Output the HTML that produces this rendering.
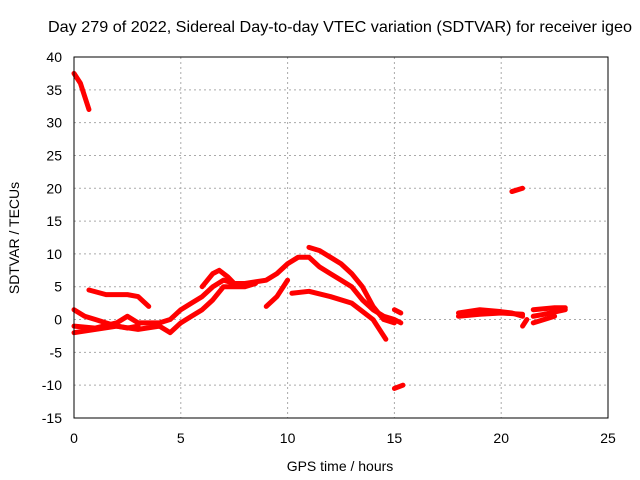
<!DOCTYPE html>
<html><head><meta charset="utf-8"><style>
body{margin:0;background:#fff}
svg{display:block;font-family:"Liberation Sans",sans-serif;font-size:14px}
</style></head><body>
<svg id="chart" width="640" height="480">
<rect x="0" y="0" width="640" height="480" fill="#fff"/>
<text x="340" y="32" text-anchor="middle" font-size="16" textLength="584" lengthAdjust="spacingAndGlyphs">Day 279 of 2022, Sidereal Day-to-day VTEC variation (SDTVAR) for receiver igeo</text>
<text x="340" y="471" text-anchor="middle">GPS time / hours</text>
<text transform="translate(19,238) rotate(-90)" text-anchor="middle">SDTVAR / TECUs</text>
<g id="grid"></g><g id="series"></g>
<rect x="74" y="57" width="534" height="361" fill="none" stroke="#000"/>
</svg>
<script>
const xTicks=[0,5,10,15,20,25];
const yTicks=[-15,-10,-5,0,5,10,15,20,25,30,35,40];
const track1=[[0,37.5],[0.3,36],[0.5,34],[0.7,32]];
const track2=[[0.7,4.5],[1.5,3.8],[2.5,3.8],[3,3.5],[3.5,2]];
const track3=[[0,1.5],[0.5,0.5],[1,0],[1.5,-0.5],[2,-1],[2.5,-1.3],[3,-1]];
const track4=[[0,-1],[1,-1.3],[2,-0.5],[2.5,0.5],[3,-0.5],[4,-0.5],[4.5,0],[5,1.5],[5.5,2.5],[6,3.5],[6.5,5],[7,6],[7.5,5.5],[8,5.5],[9,6],[9.5,7],[10,8.5],[10.5,9.5],[11,9.5],[11.5,8],[12,7],[12.5,6],[13,5],[13.5,3],[14,1.5],[14.5,0.5],[15,0],[15.3,-0.5]];
const track5=[[0,-2],[1,-1.5],[2,-1],[3,-1.5],[4,-1],[4.5,-2],[5,-0.5],[5.5,0.5],[6,1.5],[6.5,3],[7,5],[7.5,5],[8,5],[8.5,5.5]];
const track6=[[6,5],[6.5,7],[6.8,7.5],[7.2,6.5],[7.5,5.5]];
const track7=[[9,2],[9.5,3.5],[10,6]];
const track8=[[10.2,4],[11,4.3],[12,3.5],[13,2.5],[14,0],[14.6,-3]];
const track9=[[11,11],[11.5,10.5],[12,9.5],[12.5,8.5],[13,7],[13.5,5],[14,2],[14.5,0],[15,-0.5]];
const track10=[[15,1.5],[15.3,1]];
const track11=[[15,-10.5],[15.4,-10]];
const track12=[[18,1],[19,1.5],[20,1.2],[20.5,1],[21,0.5]];
const track13=[[18,0.5],[19,0.8],[20,1],[21,0.8]];
const track14=[[20.5,19.5],[21,20]];
const track15=[[21,-1],[21.2,0]];
const track16=[[21.5,0.5],[22,0.8],[23,1.5]];
const track17=[[21.5,1.5],[22.5,1.8],[23,1.8]];
const track18=[[21.5,-0.5],[22.5,0.5]];
const tracks=[track1,track2,track3,track4,track5,track6,track7,track8,track9,track10,track11,track12,track13,track14,track15,track16,track17,track18];
const X=v=>74+v*534/25, Y=v=>418-(v+15)*361/55;
const NS="http://www.w3.org/2000/svg";
const grid=document.getElementById('grid'), ser=document.getElementById('series');
function mk(tag,attrs,parent){const e=document.createElementNS(NS,tag);for(const k in attrs)e.setAttribute(k,attrs[k]);parent.appendChild(e);return e;}
xTicks.forEach(t=>{
 const g=mk('line',{x1:X(t),x2:X(t),y1:57,y2:418,stroke:'#aaa','stroke-dasharray':'2,3'},grid);
 
 
 const tx=mk('text',{x:X(t),y:443,'text-anchor':'middle'},grid);tx.textContent=t;
 
 
});
yTicks.forEach(t=>{
 const g=mk('line',{x1:74,x2:608,y1:Y(t),y2:Y(t),stroke:'#aaa','stroke-dasharray':'2,3'},grid);
 
 
 const tx=mk('text',{x:62,y:Y(t)+5,'text-anchor':'end'},grid);tx.textContent=t;
 
 
});
tracks.forEach(tr=>{
 const p=mk('polyline',{points:tr.map(d=>X(d[0])+','+Y(d[1])).join(' '),fill:'none',stroke:'#f00','stroke-width':5,'stroke-linecap':'round','stroke-linejoin':'round'},ser);
 
 
});
</script>
</body></html>
